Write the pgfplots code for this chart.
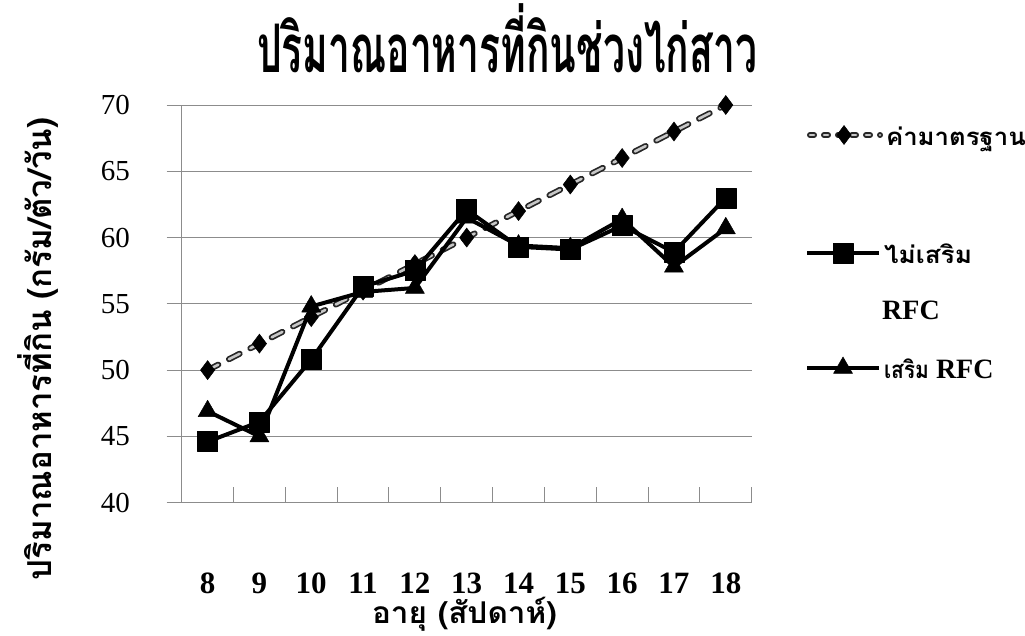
\documentclass[border=0pt]{standalone}
\usepackage{pgfplots}
\pgfplotsset{compat=1.18}
\usepackage{fontspec}
\usepackage{graphicx}
\setmainfont{Liberation Serif}
\newfontfamily\thai[Script=Thai]{Loma}
\newcommand{\tw}[3]{\resizebox{#1}{\height}{\fontsize{#2}{#2}\thai\bfseries #3}}
\definecolor{gridc}{RGB}{140,140,140}
\tikzset{stddash/.style={dash pattern=on 12pt off 12pt, line cap=round}}
\pgfplotsset{
  legline/.style={legend image code/.code={
    \path[draw=none, fill=none] (0pt,-19pt) -- (0pt,41pt);
    \draw[##1, mark repeat=2, mark phase=2] plot coordinates {(0pt,11pt)(36pt,11pt)(72pt,11pt)};}},
  legdash/.style={legend image code/.code={
    \path[draw=none, fill=none] (0pt,-19pt) -- (0pt,41pt);
    \draw[black!85, line width=6pt, line cap=round, dash pattern=on 4pt off 10pt, dash phase=-2pt] (0pt,11pt) -- (72pt,11pt);
    \draw[black!22, line width=2.6pt, line cap=round, dash pattern=on 4pt off 10pt, dash phase=-2pt] (0pt,11pt) -- (72pt,11pt);
    \draw[##1, mark repeat=2, mark phase=2] plot coordinates {(0pt,11pt)(36pt,11pt)(72pt,11pt)};}},
  legax/.style={at={(0pt,0pt)}, anchor=south west, scale only axis, width=100pt, height=100pt,
    hide axis, xmin=0, xmax=1, ymin=0, ymax=1,
    legend style={at={(#1)}, anchor=west, draw=none, fill=none, inner sep=0pt, outer sep=0pt,
      column sep=3pt, nodes={inner sep=0pt}, cells={anchor=base west}}},
  stdstyle/.style={only marks, mark=diamond*, mark size=9.5pt, black, mark options={line width=0.5pt}},
  sqstyle/.style={black, line width=4pt, line join=round, mark=square*, mark size=10pt, mark options={solid, line width=0.5pt}},
  tristyle/.style={black, line width=4pt, line join=round, mark=triangle*, mark size=11pt, mark options={solid, line width=0.5pt}},
}
\begin{document}
\begin{tikzpicture}[x=1pt,y=1pt]
\path[use as bounding box] (0,0) rectangle (1025,635);
\begin{axis}[
  at={(181.7pt,132.3pt)}, anchor=south west,
  scale only axis, width=570pt, height=397.7pt,
  xmin=7.5, xmax=18.5, ymin=40, ymax=70,
  axis lines*=left,
  axis line style={gridc, line width=1pt},
  xtick={8,...,18},
  major x tick style={draw=none},
  minor xtick={7.5,8.5,...,18.5},
  minor x tick style={gridc, line width=1pt},
  minor tick length=16pt,
  ytick={40,45,...,70},
  major tick length=15pt,
  tick align=inside,
  y tick style={gridc, line width=1pt, xshift=-15pt},
  ymajorgrids, major grid style={gridc, line width=1pt},
  /pgf/number format/assume math mode=true,
  x tick label style={font=\fontsize{31}{31}\selectfont\bfseries, anchor=base, inner sep=0pt, yshift=-90.3pt},
  y tick label style={font=\fontsize{29}{29}\selectfont, anchor=east, inner sep=0pt, xshift=-51.7pt},
  clip=false,
]
% standard: two dashed layers + marks
\addplot[black!85, line width=6pt, stddash]
  coordinates {(8,50)(9,52)(10,54)(11,56)(12,58)(13,60)(14,62)(15,64)(16,66)(17,68)(18,70)};
\addplot[black!22, line width=2.6pt, stddash]
  coordinates {(8,50)(9,52)(10,54)(11,56)(12,58)(13,60)(14,62)(15,64)(16,66)(17,68)(18,70)};
\addplot[stdstyle]
  coordinates {(8,50)(9,52)(10,54)(11,56)(12,58)(13,60)(14,62)(15,64)(16,66)(17,68)(18,70)};
% no RFC
\addplot[sqstyle]
  coordinates {(8,44.6)(9,46.1)(10,50.8)(11,56.3)(12,57.5)(13,62.1)(14,59.3)(15,59.1)(16,60.9)(17,58.9)(18,63.0)};
% RFC
\addplot[tristyle]
  coordinates {(8,46.9)(9,45.0)(10,54.8)(11,55.9)(12,56.2)(13,61.5)(14,59.4)(15,59.2)(16,61.4)(17,57.8)(18,60.7)};
\end{axis}
% legend entries (one hidden axis per entry)
\begin{axis}[legax={8.05,5.00}]
\addlegendimage{stdstyle, legdash}
\addlegendentry{\tw{140pt}{24}{ค่ามาตรฐาน}}
\end{axis}
\begin{axis}[legax={8.05,3.82}]
\addlegendimage{sqstyle, legline}
\addlegendentry{\tw{88pt}{24}{ไม่เสริม}}
\end{axis}
\begin{axis}[legax={8.05,2.67}]
\addlegendimage{tristyle, legline}
\addlegendentry{\tw{45pt}{24}{เสริม}\fontsize{28}{28}\selectfont\bfseries\ RFC}
\end{axis}
\node[anchor=base west, inner sep=0pt] at (882,315) {\fontsize{28}{28}\selectfont\bfseries RFC};
\node[anchor=base] at (507,562) {\tw{500pt}{67}{ปริมาณอาหารที่กินช่วงไก่สาว}};
\node[anchor=base] at (464.5,12) {\tw{185pt}{30}{อายุ (สัปดาห์)}};
\node[anchor=base, rotate=90] at (51,286) {\tw{462pt}{33}{ปริมาณอาหารที่กิน (กรัม/ตัว/วัน)}};
\end{tikzpicture}
\end{document}
